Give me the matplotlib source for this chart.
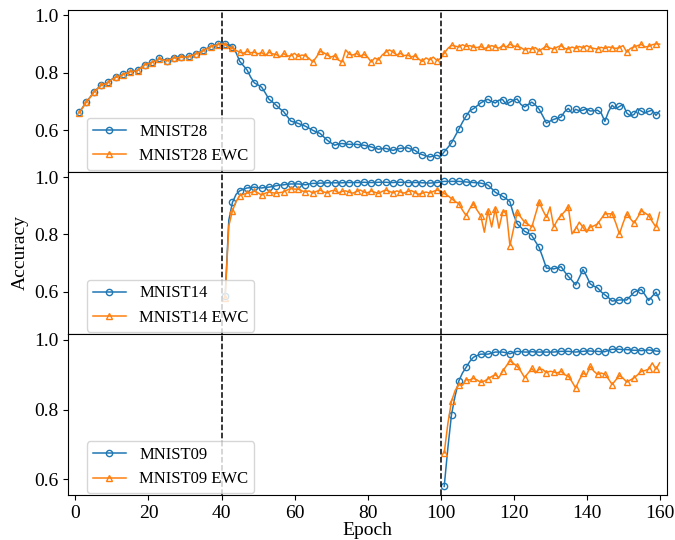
import numpy as np
import matplotlib
matplotlib.use("Agg")
import matplotlib.pyplot as plt

plt.rcParams['font.family'] = ['Liberation Serif', 'DejaVu Serif']

# --- datos ---
ep_all = np.arange(1, 161)
ep_t2 = np.arange(41, 161)
ep_t3 = np.arange(101, 161)

primeros40 = [0.662, 0.680, 0.700, 0.715, 0.733, 0.745, 0.757, 0.762, 0.767, 0.778,
              0.785, 0.790, 0.795, 0.800, 0.805, 0.807, 0.809, 0.820, 0.829, 0.833,
              0.837, 0.843, 0.850, 0.846, 0.843, 0.848, 0.853, 0.854, 0.855, 0.856,
              0.857, 0.862, 0.867, 0.872, 0.878, 0.885, 0.892, 0.896, 0.899, 0.902]

mnist28 = primeros40 + [
    0.900, 0.898, 0.890, 0.870, 0.840, 0.825, 0.810, 0.785, 0.765, 0.758,
    0.750, 0.730, 0.708, 0.698, 0.687, 0.675, 0.665, 0.648, 0.632, 0.628,
    0.624, 0.619, 0.614, 0.607, 0.600, 0.594, 0.589, 0.577, 0.565, 0.556,
    0.548, 0.552, 0.554, 0.552, 0.551, 0.551, 0.551, 0.549, 0.548, 0.545,
    0.542, 0.538, 0.534, 0.536, 0.537, 0.533, 0.530, 0.534, 0.537, 0.538,
    0.539, 0.534, 0.530, 0.520, 0.515, 0.511, 0.507, 0.510, 0.513, 0.508,
    0.525, 0.540, 0.556, 0.580, 0.603, 0.628, 0.649, 0.668, 0.675, 0.685,
    0.695, 0.703, 0.708, 0.700, 0.695, 0.705, 0.707, 0.690, 0.698, 0.705,
    0.709, 0.690, 0.681, 0.690, 0.698, 0.688, 0.673, 0.650, 0.625, 0.632,
    0.638, 0.642, 0.646, 0.665, 0.676, 0.660, 0.673, 0.668, 0.670, 0.675,
    0.667, 0.668, 0.670, 0.660, 0.631, 0.665, 0.687, 0.675, 0.683, 0.690,
    0.660, 0.650, 0.655, 0.675, 0.667, 0.660, 0.666, 0.670, 0.652, 0.667]

mnist28_ewc = [v - 0.001 for v in primeros40] + [
    0.898, 0.890, 0.885, 0.878, 0.872, 0.868, 0.875, 0.870, 0.872, 0.866,
    0.871, 0.860, 0.872, 0.866, 0.864, 0.855, 0.868, 0.858, 0.860, 0.868,
    0.857, 0.862, 0.860, 0.850, 0.838, 0.855, 0.875, 0.870, 0.862, 0.855,
    0.860, 0.845, 0.838, 0.880, 0.865, 0.862, 0.868, 0.857, 0.865, 0.855,
    0.838, 0.852, 0.845, 0.862, 0.872, 0.880, 0.872, 0.862, 0.868, 0.860,
    0.862, 0.855, 0.860, 0.848, 0.840, 0.852, 0.845, 0.855, 0.843, 0.850,
    0.868, 0.885, 0.896, 0.893, 0.890, 0.898, 0.892, 0.895, 0.890, 0.888,
    0.892, 0.885, 0.889, 0.895, 0.890, 0.886, 0.895, 0.890, 0.900, 0.893,
    0.892, 0.888, 0.880, 0.885, 0.883, 0.888, 0.876, 0.885, 0.892, 0.886,
    0.883, 0.890, 0.895, 0.885, 0.883, 0.890, 0.885, 0.892, 0.887, 0.895,
    0.888, 0.885, 0.883, 0.889, 0.885, 0.890, 0.888, 0.885, 0.888, 0.895,
    0.872, 0.885, 0.890, 0.895, 0.899, 0.890, 0.892, 0.898, 0.901, 0.900]

mnist14 = [
    0.585, 0.850, 0.912, 0.940, 0.952, 0.958, 0.962, 0.963, 0.965, 0.963,
    0.962, 0.964, 0.965, 0.967, 0.970, 0.972, 0.973, 0.975, 0.976, 0.976,
    0.976, 0.975, 0.973, 0.976, 0.978, 0.978, 0.979, 0.979, 0.980, 0.980,
    0.980, 0.980, 0.980, 0.981, 0.981, 0.981, 0.981, 0.981, 0.982, 0.981,
    0.981, 0.981, 0.982, 0.982, 0.982, 0.981, 0.981, 0.982, 0.982, 0.982,
    0.981, 0.981, 0.981, 0.981, 0.980, 0.980, 0.979, 0.980, 0.981, 0.983,
    0.985, 0.985, 0.985, 0.985, 0.985, 0.984, 0.983, 0.982, 0.981, 0.980,
    0.979, 0.976, 0.972, 0.960, 0.947, 0.940, 0.933, 0.925, 0.914, 0.870,
    0.837, 0.825, 0.811, 0.805, 0.796, 0.775, 0.755, 0.720, 0.683, 0.682,
    0.680, 0.684, 0.688, 0.670, 0.654, 0.640, 0.624, 0.650, 0.678, 0.655,
    0.628, 0.620, 0.614, 0.600, 0.590, 0.580, 0.568, 0.570, 0.572, 0.572,
    0.572, 0.585, 0.599, 0.605, 0.608, 0.590, 0.570, 0.585, 0.599, 0.572]

mnist14_ewc = [
    0.580, 0.830, 0.883, 0.915, 0.935, 0.940, 0.944, 0.946, 0.951, 0.945,
    0.937, 0.944, 0.948, 0.945, 0.944, 0.946, 0.948, 0.955, 0.960, 0.958,
    0.958, 0.952, 0.948, 0.952, 0.944, 0.950, 0.955, 0.948, 0.945, 0.952,
    0.954, 0.945, 0.950, 0.952, 0.947, 0.944, 0.950, 0.955, 0.948, 0.945,
    0.952, 0.947, 0.943, 0.950, 0.955, 0.950, 0.945, 0.952, 0.948, 0.944,
    0.950, 0.953, 0.946, 0.940, 0.944, 0.948, 0.944, 0.950, 0.955, 0.952,
    0.943, 0.935, 0.925, 0.915, 0.907, 0.885, 0.866, 0.890, 0.907, 0.885,
    0.866, 0.808, 0.883, 0.826, 0.890, 0.822, 0.877, 0.883, 0.761, 0.820,
    0.877, 0.860, 0.843, 0.835, 0.826, 0.870, 0.913, 0.885, 0.860, 0.896,
    0.826, 0.850, 0.866, 0.880, 0.896, 0.802, 0.820, 0.843, 0.825, 0.808,
    0.826, 0.830, 0.837, 0.855, 0.872, 0.872, 0.872, 0.840, 0.802, 0.840,
    0.872, 0.855, 0.840, 0.860, 0.883, 0.875, 0.866, 0.845, 0.826, 0.877]

mnist09 = [
    0.580, 0.690, 0.786, 0.840, 0.882, 0.905, 0.921, 0.938, 0.950, 0.955,
    0.959, 0.959, 0.959, 0.962, 0.965, 0.965, 0.965, 0.963, 0.960, 0.964,
    0.967, 0.966, 0.965, 0.965, 0.966, 0.965, 0.965, 0.965, 0.965, 0.965,
    0.965, 0.966, 0.967, 0.967, 0.967, 0.966, 0.965, 0.966, 0.967, 0.968,
    0.968, 0.967, 0.967, 0.966, 0.966, 0.970, 0.973, 0.973, 0.973, 0.972,
    0.972, 0.971, 0.970, 0.970, 0.969, 0.970, 0.971, 0.970, 0.968, 0.967]

mnist09_ewc = [
    0.676, 0.760, 0.824, 0.855, 0.872, 0.870, 0.886, 0.885, 0.890, 0.885,
    0.878, 0.882, 0.888, 0.895, 0.900, 0.892, 0.910, 0.925, 0.940, 0.932,
    0.924, 0.910, 0.892, 0.905, 0.918, 0.905, 0.916, 0.915, 0.906, 0.910,
    0.908, 0.905, 0.910, 0.900, 0.896, 0.880, 0.862, 0.885, 0.904, 0.900,
    0.924, 0.910, 0.901, 0.905, 0.901, 0.888, 0.872, 0.885, 0.898, 0.890,
    0.879, 0.885, 0.891, 0.900, 0.910, 0.912, 0.916, 0.934, 0.916, 0.934]

paneles = [
    (ep_all, mnist28, mnist28_ewc, 'MNIST28', (0.455, 1.018)),
    (ep_t2, mnist14, mnist14_ewc, 'MNIST14', (0.455, 1.018)),
    (ep_t3, mnist09, mnist09_ewc, 'MNIST09', (0.555, 1.018)),
]

fig, axs = plt.subplots(3, 1, sharex=True, figsize=(6.75, 5.4), dpi=100)
fig.subplots_adjust(left=0.101, right=0.988, top=0.981, bottom=0.083, hspace=0)

for ax, (x, y1, y2, nombre, lim) in zip(axs, paneles):
    ax.plot(x, y1, color='#1f77b4', marker='o', mfc='none', ms=4.5, lw=1.1,
            markevery=2, label=nombre)
    ax.plot(x, y2, color='#ff7f0e', marker='^', mfc='none', ms=4.5, lw=1.1,
            markevery=2, label=nombre + ' EWC')
    ax.axvline(40, color='k', ls='--', lw=1.1)
    ax.axvline(100, color='k', ls='--', lw=1.1)
    ax.set_ylim(*lim)
    ax.set_yticks([0.6, 0.8, 1.0])
    ax.tick_params(labelsize=14)
    ax.legend(loc='lower left', bbox_to_anchor=(0.031, 0.012), borderaxespad=0,
              borderpad=0.35, fontsize=12)

axs[-1].set_xlim(-2, 162)
axs[-1].set_xticks(np.arange(0, 161, 20))
axs[-1].set_xlabel('Epoch', fontsize=14, labelpad=0)
axs[1].set_ylabel('Accuracy', fontsize=14)

plt.savefig('out.png')
